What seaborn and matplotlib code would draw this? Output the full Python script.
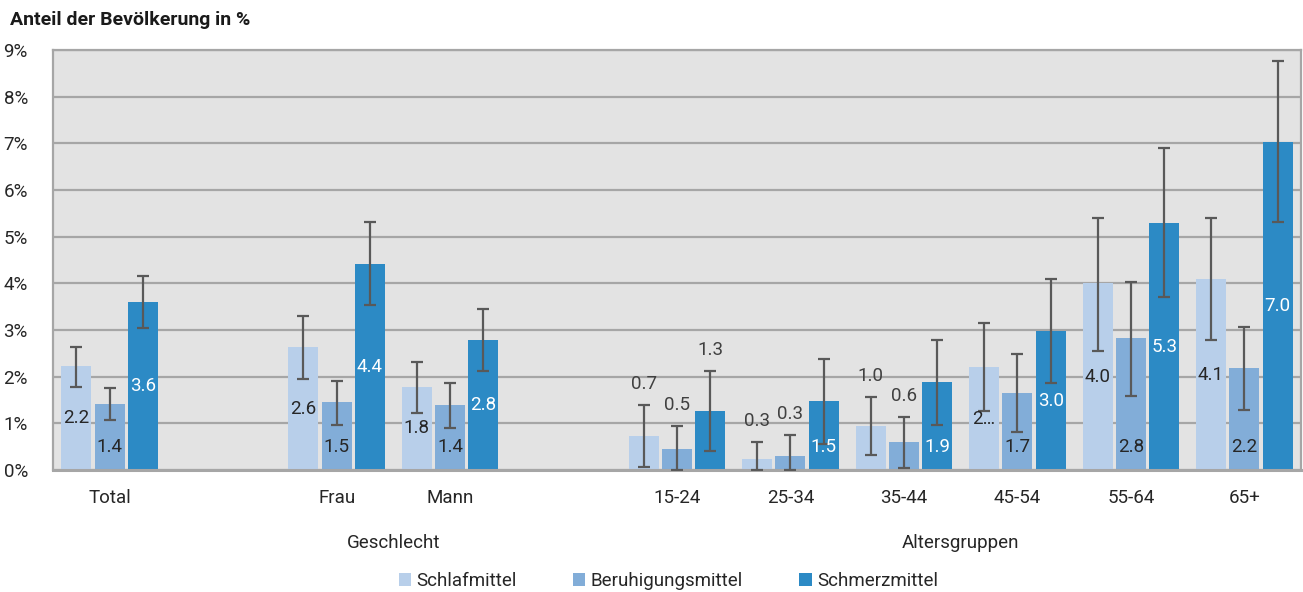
import pandas as pd
import seaborn as sns
import matplotlib.pyplot as plt
from matplotlib.transforms import blended_transform_factory

# data (values in %)
categories = ["Total", "Frau", "Mann", "15-24", "25-34", "35-44", "45-54", "55-64", "65+"]
series = ["Schlafmittel", "Beruhigungsmittel", "Schmerzmittel"]

schlaf = [2.22, 2.63, 1.78, 0.73, 0.24, 0.95, 2.20, 4.00, 4.09]
schlaf_lo = [1.78, 1.96, 1.23, 0.07, 0.00, 0.32, 1.27, 2.56, 2.79]
schlaf_hi = [2.64, 3.29, 2.32, 1.39, 0.61, 1.57, 3.14, 5.41, 5.41]
schlaf_lbl = ["2.2", "2.6", "1.8", "0.7", "0.3", "1.0", "2…", "4.0", "4.1"]

beruh = [1.42, 1.45, 1.39, 0.44, 0.31, 0.59, 1.65, 2.82, 2.18]
beruh_lo = [1.08, 0.96, 0.91, 0.00, 0.00, 0.04, 0.82, 1.59, 1.29]
beruh_hi = [1.75, 1.91, 1.87, 0.95, 0.74, 1.14, 2.48, 4.03, 3.06]
beruh_lbl = ["1.4", "1.5", "1.4", "0.5", "0.3", "0.6", "1.7", "2.8", "2.2"]

schmerz = [3.61, 4.42, 2.79, 1.26, 1.47, 1.88, 2.97, 5.29, 7.02]
schmerz_lo = [3.05, 3.54, 2.12, 0.41, 0.56, 0.96, 1.87, 3.70, 5.31]
schmerz_hi = [4.16, 5.31, 3.44, 2.12, 2.38, 2.79, 4.09, 6.89, 8.76]
schmerz_lbl = ["3.6", "4.4", "2.8", "1.3", "1.5", "1.9", "3.0", "5.3", "7.0"]

groups = {"Geschlecht": ["Frau", "Mann"],
          "Altersgruppen": ["15-24", "25-34", "35-44", "45-54", "55-64", "65+"]}

# label placement per bar (style only): c = centre, b = inside base, a = above error bar
placement = {
    "Schlafmittel":      ["c", "c", "c", "a", "a", "a", "c", "c", "c"],
    "Beruhigungsmittel": ["b", "b", "b", "a", "a", "a", "b", "b", "b"],
    "Schmerzmittel":     ["c", "c", "c", "a", "b", "b", "c", "c", "c"],
}

colors = ["#b8cfea", "#82add8", "#2c8ac5"]
label_colors = {"Schlafmittel": "#262626", "Beruhigungsmittel": "#262626", "Schmerzmittel": "white"}

values = {"Schlafmittel": schlaf, "Beruhigungsmittel": beruh, "Schmerzmittel": schmerz}
lows = {"Schlafmittel": schlaf_lo, "Beruhigungsmittel": beruh_lo, "Schmerzmittel": schmerz_lo}
highs = {"Schlafmittel": schlaf_hi, "Beruhigungsmittel": beruh_hi, "Schmerzmittel": schmerz_hi}
texts = {"Schlafmittel": schlaf_lbl, "Beruhigungsmittel": beruh_lbl, "Schmerzmittel": schmerz_lbl}

df = pd.DataFrame([
    {"cat": c, "series": s, "value": values[s][i], "lo": lows[s][i], "hi": highs[s][i],
     "label": texts[s][i], "place": placement[s][i]}
    for s in series for i, c in enumerate(categories)
])

# blank slots separate the three blocks
order = ["Total", " ", "Frau", "Mann", "  ", "15-24", "25-34", "35-44", "45-54", "55-64", "65+"]

sns.set_style("white")
plt.rcParams["font.family"] = ["Roboto", "DejaVu Sans"]

fig, ax = plt.subplots(figsize=(13.03, 5.92), dpi=100)
fig.subplots_adjust(left=53 / 1303, right=1301 / 1303, top=1 - 50 / 592, bottom=1 - 470 / 592)

sns.barplot(df, x="cat", y="value", hue="series", order=order, hue_order=series,
            palette=colors, width=0.88, gap=0.1, errorbar=None, ax=ax,
            saturation=1, linewidth=0, legend=True)

ax.set_facecolor("#e3e3e3")
ax.set_xlim(-0.5, len(order) - 0.5)
ax.set_ylim(0, 9)
ax.set_yticks(range(10))
ax.set_yticklabels([f"{i}%" for i in range(10)])
ax.yaxis.grid(True, color="#a6a6a6", linewidth=1.6)
ax.set_axisbelow(True)
for side, sp in ax.spines.items():
    sp.set_visible(True)
    sp.set_color("#a6a6a6")
    sp.set_linewidth(1.6 if side != "bottom" else 2.2)
ax.tick_params(axis="y", length=0, pad=18, labelsize=13.5, labelcolor="#262626")
ax.tick_params(axis="x", length=0, pad=14, labelsize=13.5, labelcolor="#262626")
ax.set_xlabel("")
ax.set_ylabel("")

# error bars and value labels, positioned from the drawn bars
for s, container in zip(series, ax.containers):
    sub = df[df["series"] == s].set_index("cat")
    for bar in container:
        xc = bar.get_x() + bar.get_width() / 2
        row = sub.loc[order[int(round(xc))]]
        ax.errorbar(xc, row["value"], yerr=[[row["value"] - row["lo"]], [row["hi"] - row["value"]]],
                    fmt="none", ecolor="#595959", elinewidth=1.6, capsize=4, capthick=1.6, zorder=4)
        if row["place"] == "c":
            y, col = row["value"] / 2, label_colors[s]
        elif row["place"] == "b":
            y, col = 0.49, label_colors[s]
        else:
            y, col = row["hi"] + 0.45, "#404040"
        ax.text(xc, y, row["label"], ha="center", va="center", fontsize=13.5, color=col, zorder=5)

# group captions under the category labels
trans = blended_transform_factory(ax.transData, ax.transAxes)
for name, members in groups.items():
    xs = [order.index(m) for m in members]
    ax.text(sum(xs) / len(xs), -0.175, name, transform=trans, ha="center", va="center",
            fontsize=13.5, color="#262626")

ax.legend_.remove()
handles, labels = ax.get_legend_handles_labels()
fig.legend(handles, labels, loc="center", bbox_to_anchor=(0.513, 1 - 581 / 592), ncol=3,
           frameon=False, fontsize=13.5, handlelength=0.65, handleheight=0.65,
           handletextpad=0.3, columnspacing=3.0, labelcolor="#262626")

fig.text(10 / 1303, 1 - 20 / 592, "Anteil der Bevölkerung in %", fontsize=14,
         fontweight="bold", color="#1a1a1a", ha="left", va="center")

plt.savefig("out.png", dpi=100)
